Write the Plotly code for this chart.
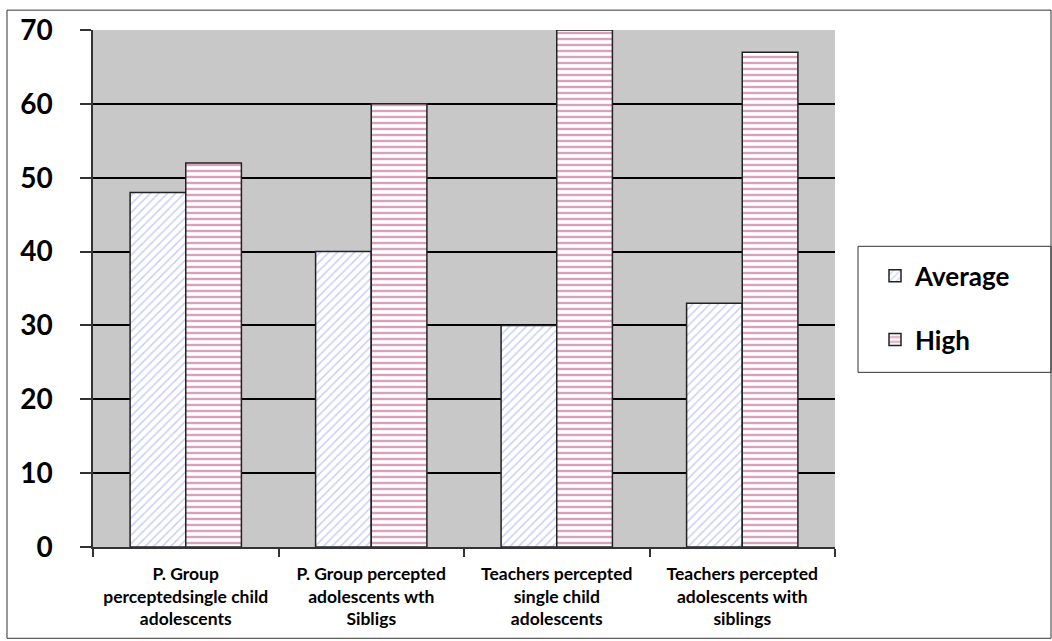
import plotly.graph_objects as go

categories = [
    "P. Group<br>perceptedsingle child<br>adolescents",
    "P. Group percepted<br>adolescents wth<br>Sibligs",
    "Teachers percepted<br>single child<br>adolescents",
    "Teachers percepted<br>adolescents with<br>siblings",
]
average = [48, 40, 30, 33]
high = [52, 60, 70, 67]
y_ticks = [0, 10, 20, 30, 40, 50, 60, 70]

FONT = "Lato, 'Liberation Sans', Arial, sans-serif"

fig = go.Figure()
fig.add_trace(go.Bar(
    x=categories, y=average, name="Average", legendgroup="a",
    marker=dict(color="white",
                pattern=dict(shape="/", fgcolor="#8f9cf0", bgcolor="white", size=6, solidity=0.25),
                line=dict(color="#222222", width=1.5)),
))
fig.add_trace(go.Bar(
    x=categories, y=high, name="High", legendgroup="b",
    marker=dict(color="white",
                pattern=dict(shape="-", fgcolor="#b4467a", bgcolor="white", size=6, solidity=0.4),
                line=dict(color="#222222", width=1.5)),
))

L, R, T, B = 93, 217, 27, 93
W, H = 1052, 641
pw, ph = W - L - R, H - T - B

def px(x):
    return (x - L) / pw

def py(y):
    return (H - B - y) / ph

fig.update_layout(
    width=W, height=H,
    margin=dict(l=L, r=R, t=T, b=B),
    paper_bgcolor="white",
    plot_bgcolor="#c8c8c8",
    barmode="group",
    bargap=0.4,
    bargroupgap=0,
    font=dict(family=FONT, color="black"),
    showlegend=True,
    legend=dict(
        x=px(875), y=py(251), xanchor="left", yanchor="top",
        bgcolor="rgba(0,0,0,0)", borderwidth=0,
        font=dict(size=26, family=FONT, weight="bold"),
        itemwidth=30, tracegroupgap=27, traceorder="grouped",
    ),
    shapes=[
        dict(type="rect", xref="paper", yref="paper",
             x0=px(7), x1=px(1051), y0=py(640), y1=py(7),
             line=dict(color="#333333", width=1), fillcolor="rgba(0,0,0,0)", layer="below"),
        dict(type="rect", xref="paper", yref="paper",
             x0=px(858), x1=px(1051), y0=py(372), y1=py(245),
             line=dict(color="#333333", width=1), fillcolor="rgba(0,0,0,0)"),
    ],
)
fig.update_yaxes(
    range=[0, 70], tickvals=y_ticks, showgrid=True, gridcolor="black", gridwidth=1.5,
    showline=True, linecolor="#333333", linewidth=1.5,
    ticks="outside", ticklen=11, tickcolor="#333333", tickwidth=1.5,
    tickfont=dict(size=28, family=FONT, weight="bold"),
    ticklabelstandoff=22, zeroline=False,
)
fig.update_xaxes(
    showgrid=False, showline=True, linecolor="#333333", linewidth=1.5,
    ticks="outside", tickson="boundaries", ticklen=8, tickcolor="#333333", tickwidth=1.5,
    tickfont=dict(size=17.5, family=FONT, weight="bold"),
    ticklabelstandoff=10,
)

fig.write_html("out.html")
